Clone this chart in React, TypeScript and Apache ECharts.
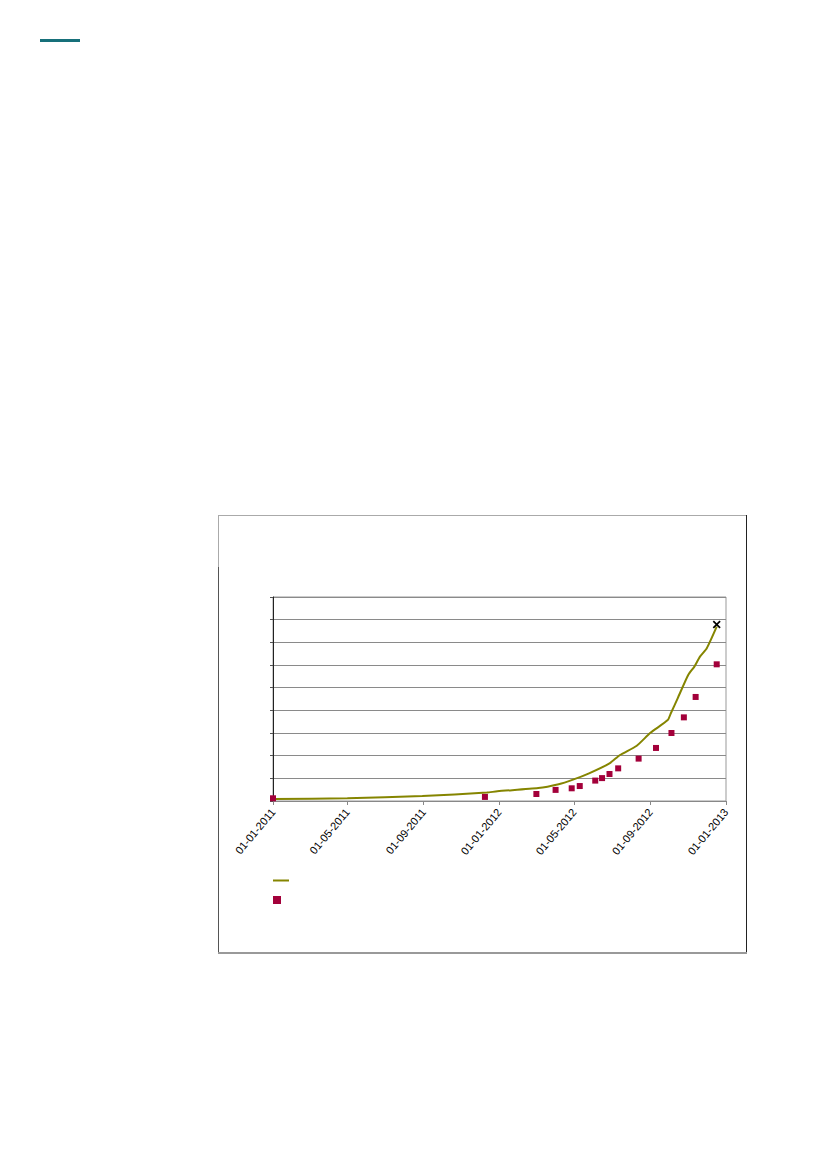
import { useEffect, useRef } from 'react'
import * as echarts from 'echarts'

// cumulative line (olive)
const lineDates = [
  '2011-01-01', '2011-05-01', '2011-08-30', '2011-12-12', '2011-12-29', '2012-03-04',
  '2012-04-06', '2012-04-28', '2012-05-25', '2012-06-27', '2012-07-14', '2012-08-10',
  '2012-09-01', '2012-09-29', '2012-10-04', '2012-10-15', '2012-11-01', '2012-11-11',
  '2012-11-20', '2012-12-01', '2012-12-17',
]
const lineValues = [
  0.9, 1.2, 2.2, 3.7, 4.3, 5.7,
  7.4, 9.3, 12.2, 16.6, 20.3, 24.4,
  30.1, 35.7, 38.7, 45.3, 55.6, 59.3,
  63.7, 67.4, 76.9,
]

// square markers (crimson)
const pointDates = [
  '2011-01-01', '2011-12-09', '2012-03-01', '2012-04-01', '2012-04-27', '2012-05-10',
  '2012-06-04', '2012-06-15', '2012-06-27', '2012-07-11', '2012-08-13', '2012-09-10',
  '2012-10-05', '2012-10-25', '2012-11-13', '2012-12-17',
]
const pointValues = [
  1.2, 1.8, 3.1, 4.9, 5.6, 6.6,
  9.0, 10.1, 11.9, 14.4, 18.7, 23.4,
  30.0, 36.9, 45.9, 60.3,
]

// end marker (black cross)
const crossDates = ['2012-12-17']
const crossValues = [77.9]

const tickDates = ['2011-01-01', '2011-05-01', '2011-09-01', '2012-01-01', '2012-05-01', '2012-09-01', '2013-01-01']

const OLIVE = '#858500'
const CRIMSON = '#a3003a'
const CROSS = 'path://M0,1.5L1.5,0L5,3.5L8.5,0L10,1.5L6.5,5L10,8.5L8.5,10L5,6.5L1.5,10L0,8.5L3.5,5Z'

const ts = (d: string) => new Date(d + 'T00:00:00Z').getTime()
const pad = (n: number) => (n < 10 ? '0' + n : '' + n)

export default function App() {
  const ref = useRef<HTMLDivElement>(null)

  useEffect(() => {
    if (!ref.current) return
    const chart = echarts.init(ref.current, undefined, { renderer: 'svg' })
    const ticks = tickDates.map(ts)
    chart.setOption({
      animation: false,
      backgroundColor: '#fff',
      textStyle: { fontFamily: 'Liberation Sans, Arial, sans-serif' },
      grid: {
        left: 273, top: 597, width: 453, height: 204,
        show: true, borderColor: '#999', borderWidth: 1, containLabel: false,
      },
      xAxis: {
        type: 'value', min: ts('2011-01-01'), max: ts('2013-01-01'),
        axisLine: { lineStyle: { color: '#888', width: 1 } },
        axisTick: { show: true, length: 4, lineStyle: { color: '#888' }, customValues: ticks },
        axisLabel: {
          customValues: ticks, rotate: 50, color: '#000', fontSize: 11, margin: 9,
          formatter: (v: number) => {
            const d = new Date(v)
            return pad(d.getUTCDate()) + '-' + pad(d.getUTCMonth() + 1) + '-' + d.getUTCFullYear()
          },
        },
        splitLine: { show: false },
      },
      yAxis: {
        type: 'value', min: 0, max: 90, interval: 10,
        axisLine: { show: true, lineStyle: { color: '#222', width: 1 } },
        axisTick: { show: true, length: 3, lineStyle: { color: '#555' } },
        axisLabel: { show: false },
        splitLine: { lineStyle: { color: '#8a8a8a', width: 1 } },
      },
      graphic: [
        { type: 'rect', shape: { x: 40, y: 39, width: 40, height: 3 }, style: { fill: '#17707a' } },
        { type: 'line', shape: { x1: 218, y1: 515.5, x2: 746, y2: 515.5 }, style: { stroke: '#aaa', lineWidth: 1 } },
        { type: 'line', shape: { x1: 218.5, y1: 515, x2: 218.5, y2: 567 }, style: { stroke: '#aaa', lineWidth: 1 } },
        { type: 'line', shape: { x1: 218.5, y1: 567, x2: 218.5, y2: 953 }, style: { stroke: '#555', lineWidth: 1 } },
        { type: 'line', shape: { x1: 746.5, y1: 515, x2: 746.5, y2: 953 }, style: { stroke: '#222', lineWidth: 1 } },
        { type: 'line', shape: { x1: 218, y1: 953, x2: 747, y2: 953 }, style: { stroke: '#999', lineWidth: 2 } },
        // legend keys (the legend has no text)
        { type: 'line', shape: { x1: 273, y1: 880.5, x2: 289, y2: 880.5 }, style: { stroke: OLIVE, lineWidth: 2 } },
        { type: 'rect', shape: { x: 273, y: 896, width: 8, height: 8 }, style: { fill: CRIMSON } },
      ],
      series: [
        {
          name: 'line', type: 'line', data: lineDates.map((d, i) => [ts(d), lineValues[i]]),
          smooth: 0.2, symbol: 'none', lineStyle: { color: OLIVE, width: 2 }, z: 2,
        },
        {
          name: 'points', type: 'scatter', data: pointDates.map((d, i) => [ts(d), pointValues[i]]),
          symbol: 'rect', symbolSize: 6, itemStyle: { color: CRIMSON, opacity: 1 }, z: 3,
        },
        {
          name: 'end', type: 'scatter', data: crossDates.map((d, i) => [ts(d), crossValues[i]]),
          symbol: CROSS, symbolSize: 8, itemStyle: { color: '#000', opacity: 1 }, z: 4,
        },
      ],
    })
    return () => chart.dispose()
  }, [])

  return <div ref={ref} style={{ position: 'absolute', left: 0, top: 0, width: 827, height: 1169 }} />
}
